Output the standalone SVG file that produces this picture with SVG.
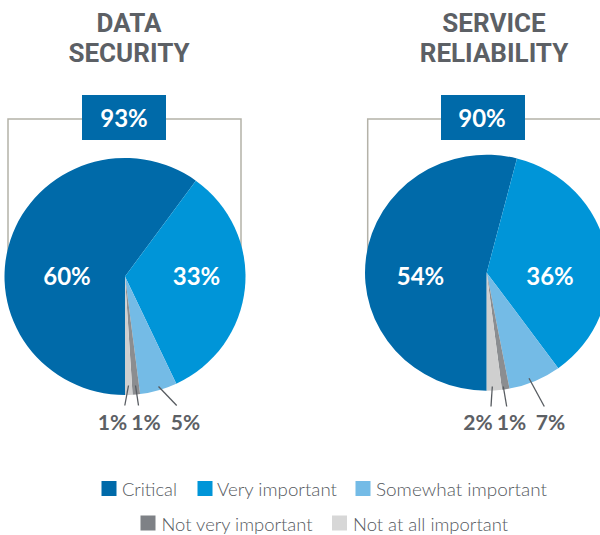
<svg xmlns="http://www.w3.org/2000/svg" width="600" height="535" viewBox="0 0 600 535">
<style>
.title{font-family:Roboto,"Liberation Sans",sans-serif;font-weight:700;font-size:26px;fill:#5c6065;text-anchor:middle}
.pct{font-family:Lato,"Liberation Sans",sans-serif;font-weight:700;font-size:24px;fill:#fff;text-anchor:middle}
.out{font-family:Lato,"Liberation Sans",sans-serif;font-weight:700;font-size:21px;fill:#5c6065;text-anchor:middle}
.leg{font-family:Lato,"Liberation Sans",sans-serif;font-weight:300;font-size:18px;fill:#55595e}
.brk{fill:none;stroke:#b4b2a8;stroke-width:1.5}
.lead{stroke:#575b60;stroke-width:1.3;fill:none}
.c1{fill:#006aa9}.c2{fill:#0095d8}.c3{fill:#74bbe6}.c4{fill:#8b8d90}.c5{fill:#cfcfcf}
.box{fill:#006aa9}
</style>
<g id="chart-data-security">
  <text class="title" x="129" y="31.5">DATA</text>
  <text class="title" x="129" y="61.5">SECURITY</text>
  <path class="brk" d="M8,260 V119 H241 V260"/>
  <rect class="box" x="82" y="95" width="84" height="45"/>
  <text class="pct" x="124" y="126.5">93%</text>
  <g transform="translate(125,276.5) scale(1.205,1.185)">
    <path class="c1" d="M0,0 L0,100 A100,100 0 1 1 58.78,-80.9 Z"/>
    <path class="c2" d="M0,0 L58.78,-80.9 A100,100 0 0 1 42.58,90.48 Z"/>
    <path class="c3" d="M0,0 L42.58,90.48 A100,100 0 0 1 12.53,99.21 Z"/>
    <path class="c4" d="M0,0 L12.53,99.21 A100,100 0 0 1 6.28,99.8 Z"/>
    <path class="c5" d="M0,0 L6.28,99.8 A100,100 0 0 1 0,100 Z"/>
  </g>
  <text class="pct" x="67" y="284.5">60%</text>
  <text class="pct" x="196.5" y="284.5">33%</text>
  <text class="out" x="112.5" y="429.5">1%</text>
  <text class="out" x="146" y="429.5">1%</text>
  <text class="out" x="185.5" y="429.5">5%</text>
</g>
<g id="chart-service-reliability">
  <text class="title" x="494" y="31.5">SERVICE</text>
  <text class="title" x="494" y="61.5">RELIABILITY</text>
  <path class="brk" d="M367.7,260 V119 H600"/>
  <rect class="box" x="441" y="95" width="84" height="45"/>
  <text class="pct" x="482" y="126.5">90%</text>
  <g transform="translate(486.7,272.7) scale(1.217,1.18)">
    <path class="c1" d="M0,0 L0,100 A100,100 0 1 1 24.87,-96.86 Z"/>
    <path class="c2" d="M0,0 L24.87,-96.86 A100,100 0 0 1 58.78,80.9 Z"/>
    <path class="c3" d="M0,0 L58.78,80.9 A100,100 0 0 1 18.74,98.23 Z"/>
    <path class="c4" d="M0,0 L18.74,98.23 A100,100 0 0 1 12.53,99.21 Z"/>
    <path class="c5" d="M0,0 L12.53,99.21 A100,100 0 0 1 0,100 Z"/>
  </g>
  <text class="pct" x="420.5" y="284.5">54%</text>
  <text class="pct" x="550" y="284.5">36%</text>
  <text class="out" x="478" y="429.5">2%</text>
  <text class="out" x="511.5" y="429.5">1%</text>
  <text class="out" x="550.5" y="429.5">7%</text>
</g>
<g id="connectors">
  <line class="lead" x1="128.5" y1="385.5" x2="124.8" y2="405.5"/>
  <line class="lead" x1="135.5" y1="385.5" x2="138.5" y2="405.5"/>
  <line class="lead" x1="158.5" y1="386.5" x2="176.7" y2="405.5"/>
  <line class="lead" x1="492.3" y1="386.5" x2="491" y2="406.5"/>
  <line class="lead" x1="503.3" y1="386.5" x2="506.7" y2="406.5"/>
  <line class="lead" x1="529" y1="378.3" x2="544.3" y2="406.5"/>
</g>
<g id="legend">
  <rect class="c1" x="101.5" y="481" width="15" height="15"/>
  <text class="leg" x="122" y="496" textLength="55" lengthAdjust="spacingAndGlyphs">Critical</text>
  <rect class="c2" x="197.5" y="481" width="15" height="15"/>
  <text class="leg" x="217" y="496" textLength="120" lengthAdjust="spacingAndGlyphs">Very important</text>
  <rect class="c3" x="355.5" y="481" width="15" height="15"/>
  <text class="leg" x="376" y="496" textLength="171" lengthAdjust="spacingAndGlyphs">Somewhat important</text>
  <rect x="140.5" y="515.5" width="15" height="15" fill="#7e8186"/>
  <text class="leg" x="161.5" y="530.5" textLength="151" lengthAdjust="spacingAndGlyphs">Not very important</text>
  <rect x="332" y="515.5" width="15" height="15" fill="#d7d7d7"/>
  <text class="leg" x="353" y="530.5" textLength="155" lengthAdjust="spacingAndGlyphs">Not at all important</text>
</g>
</svg>
